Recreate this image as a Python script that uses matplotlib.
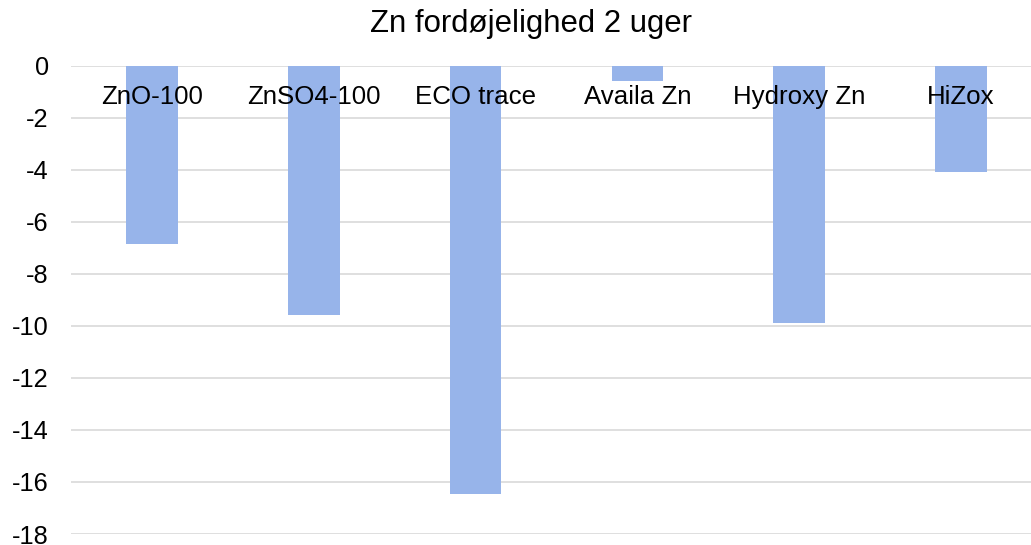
import numpy as np
import matplotlib.pyplot as plt

categories = ['ZnO-100', 'ZnSO4-100', 'ECO trace', 'Availa Zn', 'Hydroxy Zn', 'HiZox']
values = [-6.85, -9.58, -16.47, -0.58, -9.88, -4.07]
yticks = [0, -2, -4, -6, -8, -10, -12, -14, -16, -18]

plt.rcParams['font.family'] = ['Liberation Sans', 'DejaVu Sans']

fig = plt.figure(figsize=(10.31, 5.45), dpi=100)
ax = fig.add_axes([71 / 1031, 11 / 545, 971 / 1031, 468.3 / 545])

x = np.arange(len(categories))
ax.bar(x, values, width=0.32, color='#97B4EA', zorder=2)

ax.set_xlim(-0.5, len(categories) - 0.5)
ax.set_ylim(-18, 0)
ax.set_yticks(yticks)
ax.set_yticklabels([str(t) for t in yticks], fontsize=18.3)
ax.set_xticks([])
ax.tick_params(axis='y', length=0, pad=16)
ax.grid(axis='y', color='#D9D9D9', linewidth=1.2, zorder=0)
for s in ax.spines.values():
    s.set_visible(False)

for xi, c in zip(x, categories):
    ax.text(xi, -1.2, c, ha='center', va='center', fontsize=18.6, zorder=3)

fig.text(531 / 1031, 1 - 24 / 545, 'Zn fordøjelighed 2 uger', ha='center', va='center', fontsize=22.4)

fig.savefig('out.png', dpi=100)
